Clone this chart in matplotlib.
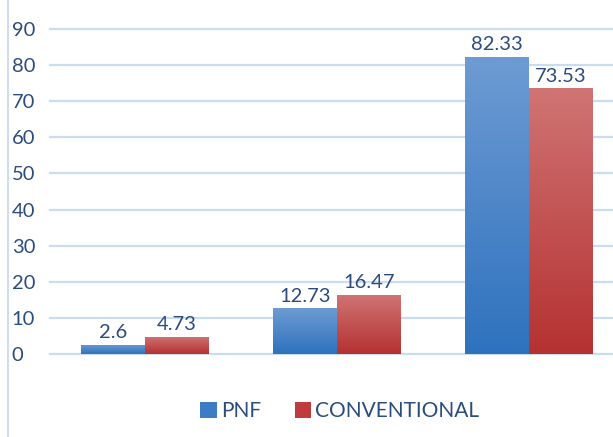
import numpy as np
import matplotlib
matplotlib.use("Agg")
import matplotlib.pyplot as plt
from matplotlib.lines import Line2D
from matplotlib.patches import Patch

# ----------------------------------------------------
# Data
# ----------------------------------------------------

groups = ["Group 1", "Group 2", "Group 3"]
pnf_values = [2.6, 12.73, 82.33]
conventional_values = [4.73, 16.47, 73.53]
pnf_labels = ["2.6", "12.73", "82.33"]
conventional_labels = ["4.73", "16.47", "73.53"]
y_ticks = [0, 10, 20, 30, 40, 50, 60, 70, 80, 90]

TEXT_COLOR = "#2B4C7E"
GRID_COLOR = "#C9DCF0"
plt.rcParams["font.family"] = ["Lato", "DejaVu Sans"]

# ----------------------------------------------------
# Figure
# ----------------------------------------------------

fig = plt.figure(figsize=(6.13, 4.37), dpi=100)
ax = fig.add_axes([50 / 613, 1 - 354 / 437, 1 - 50 / 613, (354 - 29) / 437])

x = np.arange(len(groups))
width = 1 / 3


def gradient_bar(bars, top_color, bottom_color):
    """Fill each bar with a vertical gradient (lighter at the top)."""
    cmap = matplotlib.colors.LinearSegmentedColormap.from_list(
        "g", [bottom_color, top_color]
    )
    grad = np.linspace(0, 1, 256).reshape(-1, 1)
    for bar in bars:
        x0, y0 = bar.get_x(), bar.get_y()
        w, h = bar.get_width(), bar.get_height()
        bar.set_facecolor("none")
        im = ax.imshow(
            grad, cmap=cmap, aspect="auto", origin="lower",
            extent=[x0, x0 + w, y0, y0 + h], zorder=3,
        )
        im.set_clip_path(bar)


pnf_bars = ax.bar(x - width / 2, pnf_values, width, color="#4A84C8",
                  edgecolor="none", zorder=3)
conv_bars = ax.bar(x + width / 2, conventional_values, width, color="#C04444",
                   edgecolor="none", zorder=3)
gradient_bar(pnf_bars, "#6E9BD3", "#2E72BE")
gradient_bar(conv_bars, "#D07474", "#B53131")

for bar, label in zip(pnf_bars, pnf_labels):
    ax.annotate(label, (bar.get_x() + bar.get_width() / 2, bar.get_height()),
                xytext=(0, 2.5), textcoords="offset points", ha="center",
                va="bottom", fontsize=14.5, color=TEXT_COLOR)
for bar, label in zip(conv_bars, conventional_labels):
    ax.annotate(label, (bar.get_x() + bar.get_width() / 2, bar.get_height()),
                xytext=(0, 2.5), textcoords="offset points", ha="center",
                va="bottom", fontsize=14.5, color=TEXT_COLOR)

ax.set_xlim(-0.495, 2.44)
ax.set_ylim(0, 90)
ax.set_yticks(y_ticks)
ax.set_yticklabels([str(t) for t in y_ticks], fontsize=14.5, color=TEXT_COLOR,
                   ha="left")
ax.tick_params(axis="y", length=0, pad=27.5)
ax.set_xticks([])
ax.grid(axis="y", color=GRID_COLOR, linewidth=1.6, zorder=0)
ax.set_axisbelow(True)
for spine in ax.spines.values():
    spine.set_visible(False)
for line in ax.get_ygridlines():
    line.set_clip_on(False)

# thin vertical line at the far left
fig.add_artist(Line2D([8 / 613, 8 / 613], [0, 1], color="#C5D8EE",
                      linewidth=1.2, transform=fig.transFigure))

handles = [
    Patch(facecolor="#3D7BC4", edgecolor="none"),
    Patch(facecolor="#C03C3C", edgecolor="none"),
]
fig.legend(handles, ["PNF", "CONVENTIONAL"], loc="center",
           bbox_to_anchor=(340 / 613, 1 - 411 / 437), ncol=2, frameon=False,
           fontsize=15, labelcolor=TEXT_COLOR, handlelength=0.8,
           handleheight=0.8, handletextpad=0.2, columnspacing=1.6)

fig.savefig("out.png", dpi=100)
